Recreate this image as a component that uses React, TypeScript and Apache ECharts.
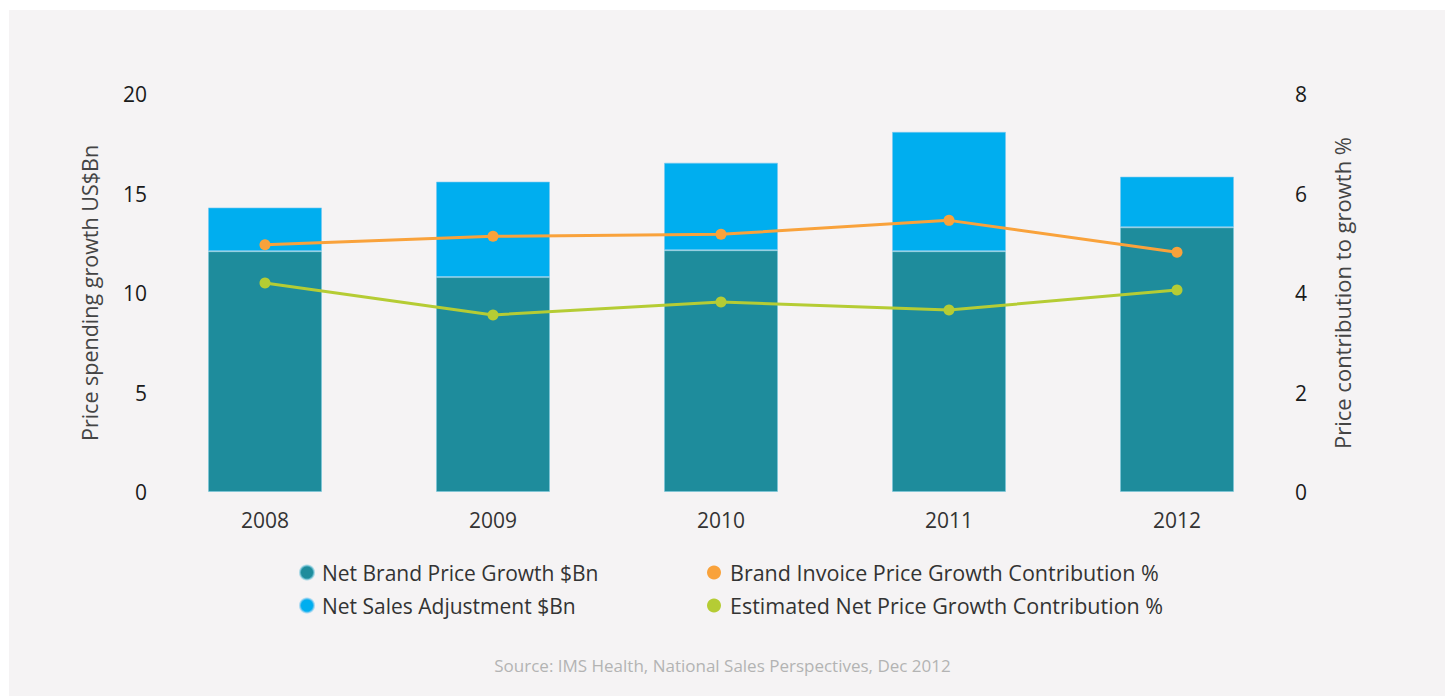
import React, { useEffect, useRef } from "react";
import * as echarts from "echarts";

const years = ["2008", "2009", "2010", "2011", "2012"];
const netBrandPriceGrowth = [12.1, 10.8, 12.15, 12.1, 13.3];
const netSalesAdjustment = [2.2, 4.8, 4.4, 6.0, 2.55];
const brandInvoiceContribution = [4.97, 5.14, 5.18, 5.46, 4.82];
const estimatedNetContribution = [4.2, 3.56, 3.82, 3.66, 4.06];
const leftTicks = { min: 0, max: 20, interval: 5 };
const rightTicks = { min: 0, max: 8, interval: 2 };

const FONT = "'Open Sans', 'Noto Sans', sans-serif";

export default function App() {
  const ref = useRef<HTMLDivElement>(null);
  useEffect(() => {
    if (!ref.current) return;
    const chart = echarts.init(ref.current, undefined, { renderer: "svg" });
    const names = [
      "Net Brand Price Growth $Bn",
      "Net Sales Adjustment $Bn",
      "Brand Invoice Price Growth Contribution %",
      "Estimated Net Price Growth Contribution %",
    ];
    chart.setOption({
      animation: false,
      backgroundColor: "#ffffff",
      textStyle: { fontFamily: FONT },
      graphic: [
        {
          type: "rect",
          shape: { x: 9, y: 10, width: 1436, height: 686 },
          style: { fill: "#f5f3f4" },
          z: -10,
          silent: true,
        },
        {
          type: "text",
          left: "center",
          top: 657,
          style: {
            text: "Source: IMS Health, National Sales Perspectives, Dec 2012",
            fill: "#b3b3b3",
            font: `17px ${FONT}`,
          },
        },
      ],
      grid: { left: 151, right: 154, top: 94, bottom: 204 },
      legend: [
        {
          orient: "vertical",
          left: 294,
          top: 556,
          icon: "circle",
          itemWidth: 14,
          itemHeight: 14,
          itemGap: 10,
          data: [names[0], names[1]],
          textStyle: { fontSize: 21, color: "#333333", fontFamily: FONT, lineHeight: 23, padding: [0, 0, 0, 3] },
        },
        {
          orient: "vertical",
          left: 702,
          top: 556,
          icon: "circle",
          itemWidth: 14,
          itemHeight: 14,
          itemGap: 10,
          data: [names[2], names[3]],
          textStyle: { fontSize: 21.5, color: "#333333", fontFamily: FONT, lineHeight: 23, padding: [0, 0, 0, 4] },
        },
      ],
      xAxis: {
        type: "category",
        data: years,
        axisLine: { show: false },
        axisTick: { show: false },
        axisLabel: { fontSize: 21, color: "#333333", margin: 17, fontFamily: FONT },
      },
      yAxis: [
        {
          type: "value",
          ...leftTicks,
          name: "Price spending growth US$Bn",
          nameLocation: "middle",
          nameRotate: 90,
          nameGap: 51,
          nameTextStyle: { fontSize: 21.5, color: "#444444", fontFamily: FONT },
          axisLine: { show: false },
          axisTick: { show: false },
          splitLine: { show: false },
          axisLabel: { fontSize: 21, color: "#1a1a1a", margin: 4, fontFamily: FONT },
        },
        {
          type: "value",
          ...rightTicks,
          name: "Price contribution to growth %",
          nameLocation: "middle",
          nameRotate: 90,
          nameGap: 40,
          nameTextStyle: { fontSize: 22, color: "#444444", fontFamily: FONT },
          axisLine: { show: false },
          axisTick: { show: false },
          splitLine: { show: false },
          axisLabel: { fontSize: 21, color: "#1a1a1a", margin: 4, fontFamily: FONT },
        },
      ],
      series: [
        {
          name: names[0],
          type: "bar",
          stack: "total",
          barWidth: "50%",
          data: netBrandPriceGrowth,
          itemStyle: { color: "#1e8c9c", borderColor: "rgba(120,200,220,0.6)", borderWidth: 1 },
        },
        {
          name: names[1],
          type: "bar",
          stack: "total",
          barWidth: "50%",
          data: netSalesAdjustment,
          itemStyle: { color: "#00aeef", borderColor: "rgba(120,200,240,0.6)", borderWidth: 1 },
        },
        {
          name: names[2],
          type: "line",
          yAxisIndex: 1,
          data: brandInvoiceContribution,
          symbol: "circle",
          symbolSize: 11,
          lineStyle: { color: "#f9a23b", width: 3 },
          itemStyle: { color: "#f9a23b" },
          z: 5,
        },
        {
          name: names[3],
          type: "line",
          yAxisIndex: 1,
          data: estimatedNetContribution,
          symbol: "circle",
          symbolSize: 11,
          lineStyle: { color: "#b5cc34", width: 3 },
          itemStyle: { color: "#b5cc34" },
          z: 5,
        },
      ],
    });
    return () => chart.dispose();
  }, []);
  return (
    <div
      ref={ref}
      style={{ position: "fixed", left: 0, top: 0, width: 1445, height: 696 }}
    />
  );
}
